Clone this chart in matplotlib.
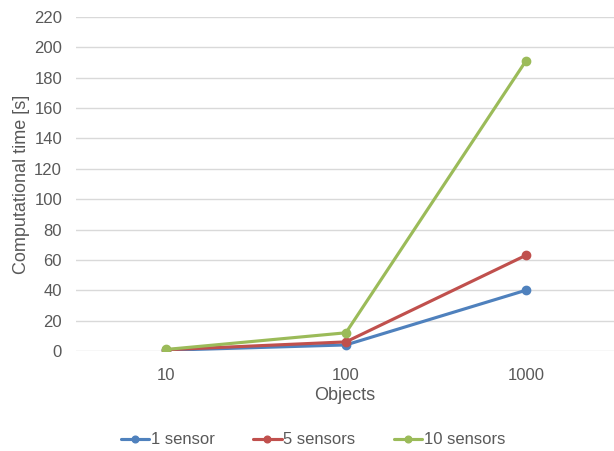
import matplotlib
matplotlib.use("Agg")
import matplotlib.pyplot as plt

categories = ["10", "100", "1000"]
series_names = ["1 sensor", "5 sensors", "10 sensors"]
s1 = [0.5, 4, 40]
s5 = [0.8, 6, 63]
s10 = [1, 12, 191]
yticks = list(range(0, 221, 20))

colors = ["#4F81BD", "#C0504D", "#9BBB59"]
txt = "#595959"
plt.rcParams['font.family'] = ['Liberation Sans', 'DejaVu Sans']

fig = plt.figure(figsize=(6.14, 4.51), dpi=100)
ax = fig.add_axes([76/614, 1-351/451, (614-76)/614, (351-17)/451])
x = list(range(len(categories)))
handles = []
for vals, name, c in zip([s1, s5, s10], series_names, colors):
    h, = ax.plot(x, vals, color=c, lw=2.25, marker='o', ms=6, label=name,
                 solid_capstyle='round', solid_joinstyle='round')
    handles.append(h)

ax.set_ylim(0, 220)
ax.set_yticks(yticks)
ax.set_xlim(-0.5, 2.49)
ax.set_xticks(x)
ax.set_xticklabels(categories)
ax.grid(axis='y', color='#D9D9D9', lw=1)
ax.set_axisbelow(True)
for s in ax.spines.values():
    s.set_visible(False)
ax.tick_params(length=0, labelsize=12, colors=txt)
ax.tick_params(axis='y', pad=10)
ax.tick_params(axis='x', pad=12)
ax.set_xlabel("Objects", fontsize=13, color=txt, labelpad=3)
ax.set_ylabel("Computational time [s]", fontsize=13, color=txt, labelpad=3)

fig.legend(handles=handles, loc='center', bbox_to_anchor=(0.51, 1-440/451), ncol=3,
           frameon=False, fontsize=12, labelcolor=txt, handlelength=1.7, handletextpad=0.1,
           columnspacing=2.3, markerscale=0.8)
fig.savefig("out.png", dpi=100)
